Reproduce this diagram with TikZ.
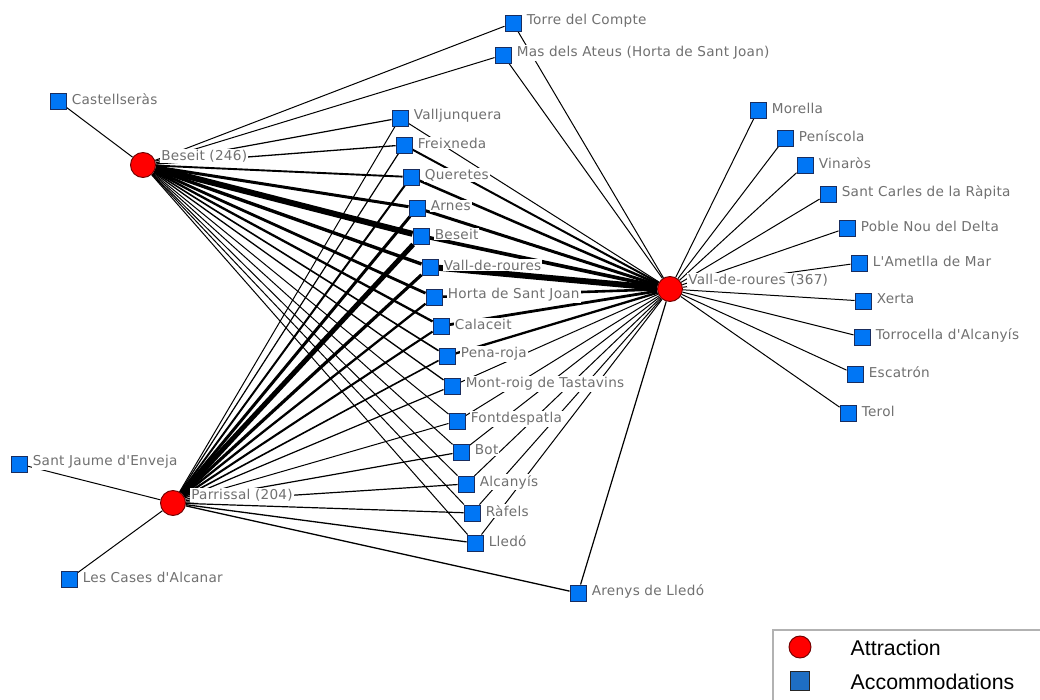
\documentclass[tikz,border=0pt]{standalone}
\usepackage{fontspec}
\setmainfont{Liberation Sans}
\newfontfamily\labfont[LetterSpace=2]{DejaVu Sans}
\definecolor{labgray}{RGB}{112,112,112}
\definecolor{accblue}{RGB}{0,118,245}
\definecolor{accedge}{RGB}{25,45,95}
\definecolor{attred}{RGB}{255,0,0}
\definecolor{attedge}{RGB}{110,0,0}
\definecolor{legblue}{RGB}{30,110,195}
\pgfdeclarelayer{paper}
\pgfdeclarelayer{bg}
\pgfsetlayers{paper,bg,main}
\tikzset{
  acc/.style={rectangle, draw=accedge, fill=accblue, minimum size=12pt, inner sep=0pt, line width=0.7pt},
  att/.style={circle, draw=attedge, fill=attred, minimum size=18.75pt, inner sep=0pt, line width=0.7pt},
  lab/.style={fill=white, text=labgray, font=\labfont\fontsize{10.2}{12}\selectfont, inner sep=0.8pt, yshift=1.5pt},
  attlab/.style={lab, yshift=5pt},
  legtext/.style={anchor=west, font=\fontsize{16}{18}\selectfont, text=black},
}
\newcommand\accnode[4]{\node[acc,label={[lab]0:#4}] (#1) at (#2,#3) {};}
\begin{document}
\begin{tikzpicture}[x=0.75pt,y=-0.75pt,label distance=3pt]
\clip (0,0) rectangle (1040,700);
\begin{pgfonlayer}{paper}
\fill[white] (0,0) rectangle (1040,700);
\end{pgfonlayer}
% attractions
\node[att,label={[attlab]0:Beseit (246)}] (B) at (143,165) {};
\node[att,label={[attlab]0:Vall-de-roures (367)}] (V) at (670,289) {};
\node[att,label={[attlab,yshift=-0.5pt]0:Parrissal (204)}] (P) at (173,503) {};
% accommodations
\accnode{tc}{513}{23}{Torre del Compte}
\accnode{ma}{503}{55}{Mas dels Ateus (Horta de Sant Joan)}
\accnode{cs}{58}{101}{Castellseràs}
\accnode{vj}{400}{118}{Valljunquera}
\accnode{fx}{404}{145}{Freixneda}
\accnode{qu}{411}{177}{Queretes}
\accnode{ar}{417}{208}{Arnes}
\accnode{bs}{421}{236}{Beseit}
\accnode{vr}{430}{267}{Vall-de-roures}
\accnode{hs}{434}{297}{Horta de Sant Joan}
\accnode{cl}{441}{326}{Calaceit}
\accnode{pr}{447}{356}{Pena-roja}
\accnode{mr}{452}{386}{Mont-roig de Tastavins}
\accnode{fd}{457}{421}{Fontdespatla}
\accnode{bo}{461}{452}{Bot}
\accnode{al}{466}{484}{Alcanyís}
\accnode{rf}{472}{513}{Ràfels}
\accnode{ll}{475}{543}{Lledó}
\accnode{ay}{578}{593}{Arenys de Lledó}
\accnode{sj}{19}{464}{Sant Jaume d'Enveja}
\accnode{lc}{69}{579}{Les Cases d'Alcanar}
\accnode{mo}{758}{110}{Morella}
\accnode{pe}{785}{138}{Peníscola}
\accnode{vi}{805}{165}{Vinaròs}
\accnode{sc}{828}{194}{Sant Carles de la Ràpita}
\accnode{pn}{847}{228}{Poble Nou del Delta}
\accnode{am}{859}{263}{L'Ametlla de Mar}
\accnode{xe}{863}{301}{Xerta}
\accnode{to}{862}{337}{Torrocella d'Alcanyís}
\accnode{es}{855}{374}{Escatrón}
\accnode{te}{848}{413}{Terol}
% edges
\begin{pgfonlayer}{bg}
\foreach \n/\w in {cs/1,tc/1,ma/1,vj/1.2,fx/1.3,qu/1.9,ar/3,bs/6,vr/3.4,hs/2.8,cl/2.3,pr/1.6,mr/1.3,fd/1,bo/1,al/1,rf/1,ll/1}{
  \pgfmathsetmacro\lw{\w*0.75}
  \draw[line width=\lw pt] (B) -- (\n);
}
\foreach \n/\w in {tc/1,ma/1,vj/1,fx/2,qu/2.5,ar/3,bs/3.7,vr/6,hs/2.6,cl/2.8,pr/2.3,mr/1,fd/1,bo/1,al/1,rf/1,ll/1,ay/1.2,mo/1,pe/1,vi/1,sc/1,pn/1,am/1,xe/1,to/1,es/1,te/1}{
  \pgfmathsetmacro\lw{\w*0.75}
  \draw[line width=\lw pt] (V) -- (\n);
}
\foreach \n/\w in {sj/1,lc/1,ay/1.3,ll/1.3,rf/1.2,al/1.2,bo/1.2,fd/1,mr/1.2,pr/1.6,cl/2.1,hs/2.3,vr/3.2,bs/5,ar/3,qu/2,fx/1.2,vj/1}{
  \pgfmathsetmacro\lw{\w*0.75}
  \draw[line width=\lw pt] (P) -- (\n);
}
\end{pgfonlayer}
% legend
\draw[draw=gray!60, line width=0.8pt, fill=white] (773,630) rectangle (1050,710);
\node[att, minimum size=16.5pt] (la) at (800,647) {};
\node[rectangle, draw=black!85, fill=legblue, minimum size=14pt, inner sep=0pt, line width=0.7pt] (lb) at (800,681) {};
\node[legtext] (lt1) at (846,648) {Attraction};
\node[legtext] (lt2) at (846,682) {Accommodations};
\end{tikzpicture}
\end{document}
